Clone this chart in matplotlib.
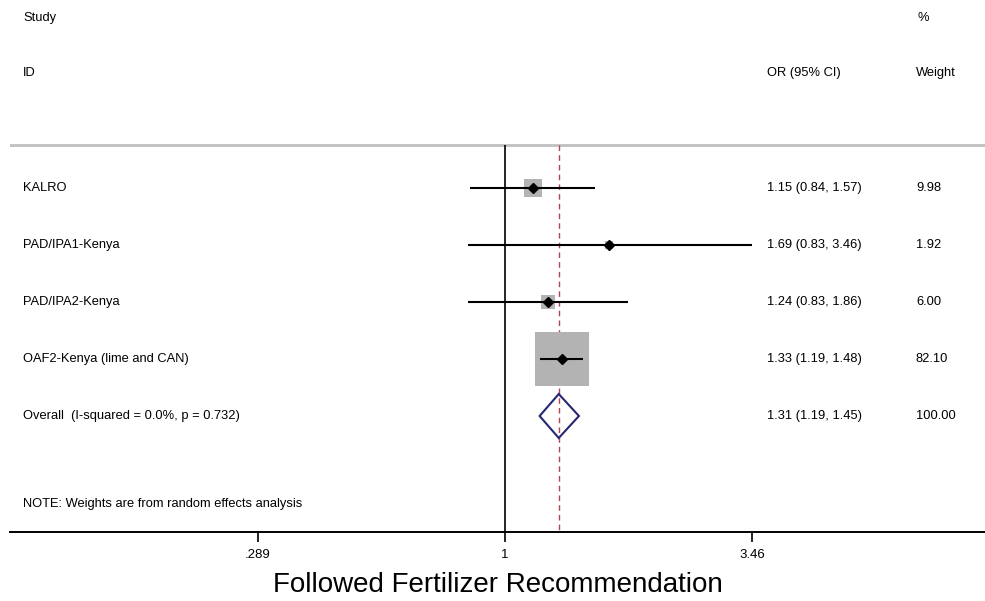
import numpy as np
import matplotlib
matplotlib.use("Agg")
import matplotlib.pyplot as plt
from matplotlib.patches import Polygon

plt.rcParams['font.family'] = ['Liberation Sans', 'DejaVu Sans']

# study-level results (odds ratios, 95% CI, random-effects weights)
studies = ["KALRO", "PAD/IPA1-Kenya", "PAD/IPA2-Kenya", "OAF2-Kenya (lime and CAN)"]
or_est = [1.15, 1.69, 1.24, 1.33]
ci_lo = [0.84, 0.83, 0.83, 1.19]
ci_hi = [1.57, 3.46, 1.86, 1.48]
weights = [9.98, 1.92, 6.00, 82.10]

overall_label = "Overall  (I-squared = 0.0%, p = 0.732)"
overall = [1.31, 1.19, 1.45]
overall_weight = 100.00

xticks = [0.289, 1, 3.46]
xticklabels = [".289", "1", "3.46"]

W, H = 985, 601
fig = plt.figure(figsize=(W / 100, H / 100), dpi=100)
# axes spans the figure width; y runs in pixel rows from the top
ax = fig.add_axes([10 / W, (H - 532) / H, 975 / W, 532 / H])
ax.set_xscale("log")
px_per_ln = 199.0
x_one = 505 - 10
ax.set_xlim(np.exp(-x_one / px_per_ln), np.exp((975 - x_one) / px_per_ln))
ax.set_ylim(532, 0)

for s in ["left", "right", "top"]:
    ax.spines[s].set_visible(False)
ax.spines["bottom"].set_linewidth(1.4)
ax.set_yticks([])
ax.set_xticks(xticks)
ax.set_xticklabels(xticklabels, fontsize=9.5)
ax.xaxis.set_minor_locator(matplotlib.ticker.NullLocator())
ax.tick_params(axis="x", length=7.5, width=1.2, pad=5)
ax.set_xlabel("Followed Fertilizer Recommendation", fontsize=20, labelpad=8)

def to_fig_x(px):
    return (px - 10) / 975

txt = dict(fontsize=9.3, va="center")
tr = matplotlib.transforms.blended_transform_factory(ax.transAxes, ax.transData)

# header
ax.text(to_fig_x(23), 18, "Study", transform=tr, **txt)
ax.text(to_fig_x(23), 73, "ID", transform=tr, **txt)
ax.text(to_fig_x(917), 18, "%", transform=tr, **txt)
ax.text(to_fig_x(767), 73, "OR (95% CI)", transform=tr, **txt)
ax.text(to_fig_x(916), 73, "Weight", transform=tr, **txt)

ax.axhline(145, color="#c0c0c0", lw=2)
ax.vlines(1, 145, 532, color="black", lw=1.2)
ax.vlines(overall[0], 145, 532, color="#b04450", lw=1.0, linestyles=(0, (4, 3)))

row_y = [188 + 57 * i for i in range(len(studies) + 1)]

for i, name in enumerate(studies):
    y = row_y[i]
    side = 5.96 * np.sqrt(weights[i]) * 0.72
    ax.scatter([or_est[i]], [y], marker="s", s=side ** 2, color="#b3b3b3",
               linewidths=0, zorder=2)
    ax.hlines(y, ci_lo[i], ci_hi[i], color="black", lw=1.5, zorder=3)
    ax.plot(or_est[i], y, marker="D", color="black", ms=5, zorder=4)
    ax.text(to_fig_x(23), y, name, transform=tr, **txt)
    ax.text(to_fig_x(767), y, "%.2f (%.2f, %.2f)" % (or_est[i], ci_lo[i], ci_hi[i]),
            transform=tr, **txt)
    ax.text(to_fig_x(916), y, "%.2f" % weights[i], transform=tr, **txt)

# pooled estimate diamond
y = row_y[-1]
est, lo, hi = overall
diamond = Polygon([(lo, y), (est, y - 22), (hi, y), (est, y + 22)], closed=True,
                  fill=False, edgecolor="#262673", lw=1.5, zorder=4)
ax.add_patch(diamond)
ax.text(to_fig_x(23), y, overall_label, transform=tr, **txt)
ax.text(to_fig_x(767), y, "%.2f (%.2f, %.2f)" % (est, lo, hi), transform=tr, **txt)
ax.text(to_fig_x(916), y, "%.2f" % overall_weight, transform=tr, **txt)

ax.text(to_fig_x(23), 504, "NOTE: Weights are from random effects analysis",
        transform=tr, **txt)

fig.savefig("out.png", dpi=100, facecolor="white")
